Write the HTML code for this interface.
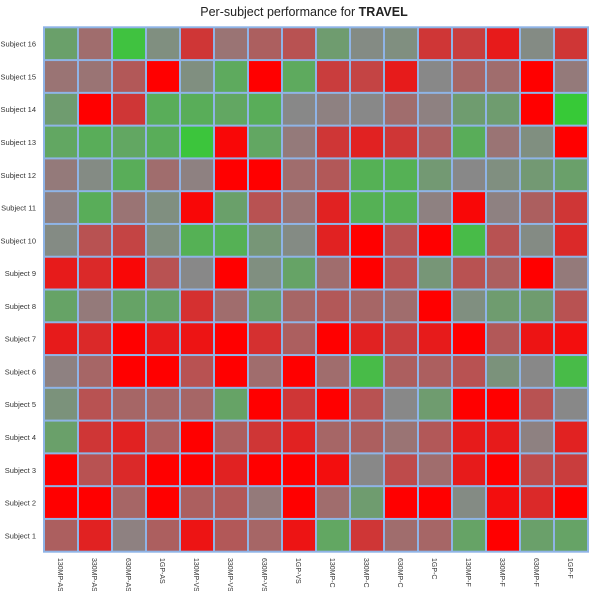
<!DOCTYPE html>
<html><head><meta charset="utf-8">
<style>
html,body{margin:0;padding:0;background:#fff;}
svg{display:block;font-family:"Liberation Sans",sans-serif;}
</style></head>
<body>
<svg id="chart" width="599" height="591" viewBox="0 0 599 591">
<text x="304" y="16" text-anchor="middle" font-size="12.5" fill="#222">Per-subject performance for <tspan font-weight="bold">TRAVEL</tspan></text>
<g id="cells"></g>
<g id="ylabels"></g>
<g id="xlabels"></g>
</svg>
<script>
const columns = ["130MP-AS","330MP-AS","630MP-AS","1GP-AS","130MP-VS","330MP-VS","630MP-VS","1GP-VS","130MP-C","330MP-C","630MP-C","1GP-C","130MP-F","330MP-F","630MP-F","1GP-F"];
const subjects = ["Subject 16","Subject 15","Subject 14","Subject 13","Subject 12","Subject 11","Subject 10","Subject 9","Subject 8","Subject 7","Subject 6","Subject 5","Subject 4","Subject 3","Subject 2","Subject 1"];
// score per cell: -1 = strong green, 0 = gray, 1 = strong red
const row16 = [-0.35,0.2,-0.85,-0.1,0.6,0.15,0.3,0.4,-0.3,-0.05,-0.1,0.6,0.55,0.8,-0.05,0.6];
const row15 = [0.15,0.15,0.35,1,-0.1,-0.5,1,-0.5,0.55,0.5,0.8,0,0.25,0.2,1,0.1];
const row14 = [-0.3,1,0.6,-0.55,-0.55,-0.45,-0.55,0,0.05,0,0.2,0.05,-0.3,-0.3,1,-0.95];
const row13 = [-0.45,-0.55,-0.45,-0.55,-0.9,0.95,-0.45,0.1,0.6,0.75,0.6,0.3,-0.55,0.15,-0.1,1];
const row12 = [0.1,-0.05,-0.55,0.2,0.05,1,1,0.2,0.35,-0.6,-0.6,-0.25,0,-0.1,-0.25,-0.35];
const row11 = [0.05,-0.55,0.15,-0.1,0.95,-0.35,0.4,0.15,0.75,-0.6,-0.6,0.05,0.95,0.05,0.3,0.6];
const row10 = [-0.05,0.4,0.5,-0.1,-0.6,-0.6,-0.2,-0.05,0.75,1,0.4,1,-0.75,0.4,-0.05,0.7];
const row9 = [0.8,0.7,0.95,0.4,0,1,-0.1,-0.4,0.2,1,0.4,-0.2,0.4,0.3,1,0.1];
const row8 = [-0.4,0.1,-0.4,-0.4,0.65,0.2,-0.35,0.25,0.35,0.25,0.2,1,-0.1,-0.3,-0.3,0.4];
const row7 = [0.8,0.7,1,0.8,0.85,1,0.65,0.3,1,0.75,0.55,0.8,1,0.35,0.85,0.9];
const row6 = [0.05,0.25,1,1,0.4,1,0.2,1,0.2,-0.75,0.3,0.3,0.4,-0.15,0,-0.75];
const row5 = [-0.15,0.4,0.25,0.25,0.25,-0.4,1,0.6,1,0.4,0,-0.3,1,1,0.4,0];
const row4 = [-0.35,0.6,0.75,0.3,1,0.3,0.6,0.75,0.25,0.3,0.15,0.35,0.8,0.8,0.05,0.75];
const row3 = [1,0.4,0.7,1,1,0.75,1,1,0.9,0,0.45,0.2,0.8,1,0.45,0.55];
const row2 = [1,1,0.25,1,0.3,0.35,0.1,1,0.2,-0.3,1,1,-0.05,0.9,0.7,1];
const row1 = [0.3,0.75,0.05,0.3,0.85,0.35,0.25,0.85,-0.45,0.6,0.2,0.25,-0.4,1,-0.35,-0.4];
const values = [row16,row15,row14,row13,row12,row11,row10,row9,row8,row7,row6,row5,row4,row3,row2,row1];

const NS = "http://www.w3.org/2000/svg";
const X0 = 44, X1 = 588, Y0 = 27.3, Y1 = 551.7;
const cw = (X1 - X0) / columns.length, ch = (Y1 - Y0) / subjects.length;
const xPos = i => X0 + i * cw;
const yPos = j => Y0 + j * ch;
function color(t){
  const g=[136,136,136];
  const e = t<0 ? [51,204,51] : [255,0,0];
  const a = Math.min(1, Math.abs(t));
  return "rgb("+g.map((v,k)=>Math.round(v+(e[k]-v)*a)).join(",")+")";
}
const cells = document.getElementById("cells");
const bg = document.createElementNS(NS,"rect");
bg.setAttribute("x",X0-1); bg.setAttribute("y",Y0-1);
bg.setAttribute("width",X1-X0+2); bg.setAttribute("height",Y1-Y0+2);
bg.setAttribute("fill","#8fb4e6");


cells.appendChild(bg);
values.forEach((row,j)=>{
  row.forEach((v,i)=>{
    const r = document.createElementNS(NS,"rect");
    r.setAttribute("x",xPos(i)+1); r.setAttribute("y",yPos(j)+1);
    r.setAttribute("width",cw-2); r.setAttribute("height",ch-2);
    r.setAttribute("fill",color(v));
    
    
    cells.appendChild(r);
  });
});
const yl = document.getElementById("ylabels");
subjects.forEach((s,j)=>{
  const t = document.createElementNS(NS,"text");
  t.setAttribute("x",36); t.setAttribute("y",yPos(j)+ch/2+3);
  t.setAttribute("text-anchor","end"); t.setAttribute("font-size","7.5");
  t.setAttribute("fill","#333");
  t.textContent = s;
  
  
  yl.appendChild(t);
});
const xl = document.getElementById("xlabels");
columns.forEach((c,i)=>{
  const t = document.createElementNS(NS,"text");
  const x = xPos(i)+cw/2-3, y = 558;
  t.setAttribute("x",x); t.setAttribute("y",y);
  t.setAttribute("transform","rotate(90 "+x+" "+y+")");
  t.setAttribute("font-size","7");
  t.setAttribute("fill","#333");
  t.textContent = c;
  
  
  xl.appendChild(t);
});
</script>
</body></html>
